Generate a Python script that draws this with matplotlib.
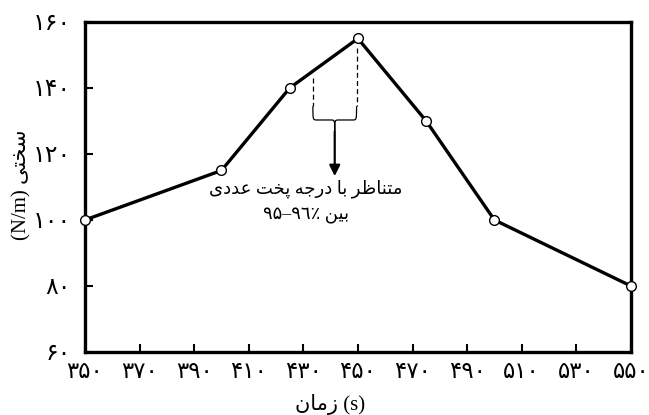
"""Stiffness vs. time plot with Persian labels (shaped by hand)."""

import matplotlib

matplotlib.use("Agg")
import matplotlib.pyplot as plt  # noqa: E402
from matplotlib.path import Path  # noqa: E402
from matplotlib.patches import PathPatch  # noqa: E402

# data
time_s = [350, 400, 425, 450, 475, 500, 550]
stiffness = [100, 115, 140, 155, 130, 100, 80]
x_ticks = [350, 370, 390, 410, 430, 450, 470, 490, 510, 530, 550]
y_ticks = [60, 80, 100, 120, 140, 160]
optimum_range = [433.5, 449.5]       # dashed markers under the peak
optimum_tops = [143, 152]

FA_DIGITS = str.maketrans("0123456789", "۰۱۲۳۴۵۶۷۸۹")


def fa(n):
    return str(n).translate(FA_DIGITS)


# matplotlib has no Arabic shaping: strings below are presentation forms
# already laid out in visual (left-to-right) order
YLABEL = "(N/m) " + "\uFBFD\uFE98\uFEA8\uFEB3"                  # سختی
XLABEL = "\uFEE5\uFE8E\uFEE3\uFEAF" + " (s)"                    # زمان
NOTE1 = " ".join([
    "\uFBFC\uFEA9\uFEAA\uFECB",                                 # عددی
    "\uFE96\uFEA8\uFB58",                                       # پخت
    "\uFEEA\uFE9F\uFEAD\uFEA9",                                 # درجه
    "\uFE8E\uFE91",                                             # با
    "\uFEAE\uFEC7\uFE8E\uFEE8\uFE98\uFEE3",                     # متناظر
])
NOTE2 = "۹۵\u2013۹\u0666\u066A " + "\uFEE6\uFBFF\uFE91"         # بین

FONT = ["Liberation Serif", "DejaVu Sans"]
plt.rcParams["font.family"] = FONT

fig = plt.figure(figsize=(6.49, 4.15), dpi=100)
ax = fig.add_axes([0.131, 0.152, 0.841, 0.795])

ax.plot(time_s, stiffness, color="black", lw=2.4, marker="o", ms=7,
        mfc="white", mec="black", mew=1.0, zorder=3, clip_on=False)

ax.set_xlim(350, 550)
ax.set_ylim(60, 160)
ax.set_xticks(x_ticks)
ax.set_yticks(y_ticks)
ax.set_xticklabels([fa(v) for v in x_ticks], family=FONT, fontsize=16.5)
ax.set_yticklabels([fa(v) for v in y_ticks], family=FONT, fontsize=17)
ax.tick_params(direction="in", length=6, width=1.5)
ax.tick_params(axis="x", pad=7)
ax.tick_params(axis="y", pad=10)
for s in ax.spines.values():
    s.set_linewidth(2.4)

ax.set_xlabel(XLABEL, fontsize=15)
ax.set_ylabel(YLABEL, fontsize=15)
ax.xaxis.set_label_coords(0.449, -0.128)
ax.yaxis.set_label_coords(-0.098, 0.506)

# dashed markers for the optimum window
for xv, yt in zip(optimum_range, optimum_tops):
    ax.plot([xv, xv], [yt, 134.5], color="black", lw=0.9, ls=(0, (4, 2.5)))

# curly brace joining them
x0, x1 = optimum_range
xm = (x0 + x1) / 2
yt, yb, yp = 134.5, 130.3, 126.8
verts = [
    (x0, yt), (x0, yb), (x0, yb), (x0 + 1.5, yb),
    (xm - 1.5, yb),
    (xm, yb), (xm, yb), (xm, yp),
    (xm, yb), (xm, yb), (xm + 1.5, yb),
    (x1 - 1.5, yb),
    (x1, yb), (x1, yb), (x1, yt),
]
codes = [Path.MOVETO] + [Path.CURVE4] * 3 + [Path.LINETO] + \
        [Path.CURVE4] * 6 + [Path.LINETO] + [Path.CURVE4] * 3
ax.add_patch(PathPatch(Path(verts, codes), fill=False, lw=0.9, color="black"))

ax.annotate("", xy=(xm, 113.3), xytext=(xm, yp),
            arrowprops=dict(arrowstyle="-|>", color="black", lw=1.6,
                            mutation_scale=16, shrinkA=0, shrinkB=0))

ax.text(431, 109.5, NOTE1, ha="center", va="center", fontsize=13,
        family=FONT)
ax.text(431, 101.2, NOTE2, ha="center", va="center", fontsize=13,
        family=FONT)

fig.savefig("out.png", dpi=100)
